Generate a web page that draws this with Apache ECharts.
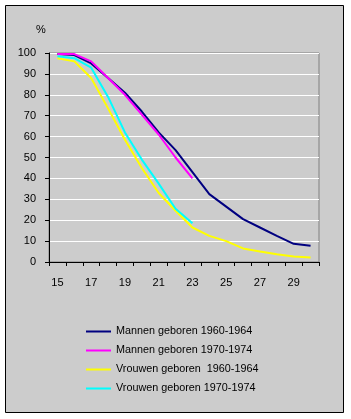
<!DOCTYPE html>
<html>
<head>
<meta charset="utf-8">
<script src="https://cdn.jsdelivr.net/npm/echarts@6/dist/echarts.min.js"></script>
<style>
    html, body { margin: 0; padding: 0; background: #fff; }
    #chart { width: 351px; height: 419px; }
</style>
</head>
<body>
<div id="chart"></div>
<script>
// leeftijden (x-as)
var ages = ['15','16','17','18','19','20','21','22','23','24','25','26','27','28','29','30'];

// percentages
var mannen6064 = [99.5, 99, 95, 88, 81, 72, 62, 53.5, 43, 32.5, 26.5, 20.5, 16.5, 12.5, 8.7, 7.8];
var mannen7074 = [99.5, 99.5, 96, 88, 80, 70.5, 61, 50, 40];
var vrouwen6064 = [97.5, 96, 88, 73.5, 58.5, 45, 33, 24.5, 16.5, 12.5, 10, 6.5, 5, 3.7, 2.6, 2.1];
var vrouwen7074 = [98.5, 97.5, 93, 79, 62, 49, 37.5, 25.5, 18.5];

var names = ['Mannen geboren 1960-1964', 'Mannen geboren 1970-1974', 'Vrouwen geboren  1960-1964', 'Vrouwen geboren 1970-1974'];
var colors = ['#000080', '#ff00ff', '#ffff00', '#00ffff'];

var font = 'Liberation Sans, Arial, sans-serif';

function mkSeries(i, data) {
    return {
        name: names[i],
        type: 'line',
        data: data,
        symbol: 'none',
        smooth: false,
        lineStyle: { color: colors[i], width: 2 },
        itemStyle: { color: colors[i] },
        emphasis: { disabled: true }
    };
}

var myChart = echarts.init(document.getElementById('chart'));
var opt = {
    animation: false,
    backgroundColor: '#fff',
    color: colors,
    graphic: [{
        type: 'rect',
        z: -10,
        shape: { x: 5.5, y: 5.5, width: 338, height: 407 },
        style: { fill: '#cccccc', stroke: '#000', lineWidth: 1 }
    }, {
        type: 'text',
        left: 36, top: 24,
        style: { text: '%', font: '11px ' + font, fill: '#000' }
    }],
    grid: {
        left: 49, right: 32, top: 53, bottom: 157,
        show: true, borderColor: '#808080', borderWidth: 1,
        backgroundColor: 'transparent'
    },
    legend: {
        orient: 'vertical',
        left: 86, top: 326,
        padding: 0,
        itemWidth: 25, itemHeight: 14, itemGap: 8,
        icon: 'path://M0,6 L25,6 L25,8 L0,8 Z',
        textStyle: { fontFamily: font, fontSize: 10.8, color: '#000' },
        selectedMode: false,
        data: names
    },
    xAxis: {
        type: 'category',
        data: ages,
        boundaryGap: true,
        axisLine: { lineStyle: { color: '#000', width: 1 } },
        axisTick: { show: true, interval: 0, length: 4, lineStyle: { color: '#000' } },
        axisLabel: { interval: 1, margin: 15, fontFamily: font, fontSize: 11, color: '#000' },
        splitLine: { show: false }
    },
    yAxis: {
        type: 'value',
        min: 0, max: 100, interval: 10,
        axisLine: { show: true, lineStyle: { color: '#000', width: 1 } },
        axisTick: { show: true, length: 4, lineStyle: { color: '#000' } },
        axisLabel: { margin: 13, fontFamily: font, fontSize: 11, color: '#000' },
        splitLine: { show: true, lineStyle: { color: '#fff', width: 1 } }
    },
    series: [
        mkSeries(0, mannen6064),
        mkSeries(1, mannen7074),
        mkSeries(2, vrouwen6064),
        mkSeries(3, vrouwen7074)
    ]
};
myChart.setOption(opt);
</script>
</body>
</html>
